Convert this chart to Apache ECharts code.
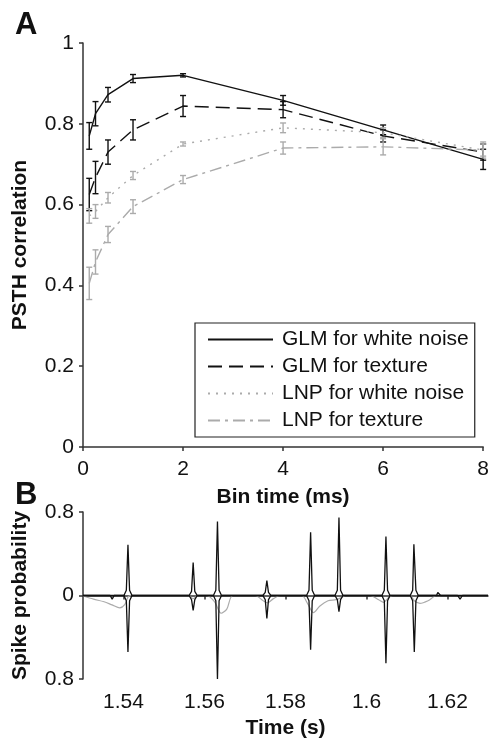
<!DOCTYPE html>
<html>
<head>
<meta charset="utf-8">
<script src="https://cdn.jsdelivr.net/npm/echarts@6/dist/echarts.min.js"></script>
<style>html,body{margin:0;padding:0;background:#fff;}#c{width:492px;height:740px;}</style>
</head>
<body>
<div id="c"></div>
<script>
// ---------- Panel A data ----------
const binTimes = [0.125, 0.25, 0.5, 1, 2, 4, 6, 8];
const glmWhite = [0.77, 0.825, 0.872, 0.912, 0.92, 0.858, 0.785, 0.712];
const glmWhiteErr = [0.033, 0.03, 0.018, 0.01, 0.004, 0.012, 0.012, 0.025];
const glmTexture = [0.625, 0.667, 0.73, 0.785, 0.844, 0.835, 0.77, 0.73];
const glmTextureErr = [0.04, 0.04, 0.03, 0.025, 0.026, 0.02, 0.015, 0.02];
const lnpWhite = [0.572, 0.583, 0.617, 0.672, 0.75, 0.79, 0.778, 0.735];
const lnpWhiteErr = [0.018, 0.017, 0.013, 0.01, 0.005, 0.012, 0.012, 0.015];
const lnpTexture = [0.405, 0.458, 0.526, 0.595, 0.662, 0.74, 0.743, 0.735];
const lnpTextureErr = [0.04, 0.03, 0.02, 0.017, 0.01, 0.015, 0.02, 0.02];
const seriesNames = ['GLM for white noise', 'GLM for texture', 'LNP for white noise', 'LNP for texture'];
const xTicksA = [0, 2, 4, 6, 8];

// ---------- Panel B data ----------
const timeTicksB = [1.54, 1.56, 1.58, 1.6, 1.62];
const glmUp = [
  [1.53,0],
  [1.5401,0],[1.5407,0.05],[1.5411,0.486],[1.5415,0.05],[1.5421,0],
  [1.5562,0],[1.5568,0.04],[1.5572,0.317],[1.5576,0.04],[1.5582,0],
  [1.5622,0],[1.5628,0.05],[1.5632,0.708],[1.5636,0.05],[1.5642,0],
  [1.5744,0],[1.575,0.03],[1.5754,0.143],[1.5758,0.03],[1.5764,0],
  [1.5852,0],[1.5858,0.05],[1.5862,0.607],[1.5866,0.05],[1.5872,0],
  [1.5922,0],[1.5928,0.05],[1.5932,0.746],[1.5936,0.05],[1.5942,0],
  [1.6038,0],[1.6044,0.05],[1.6048,0.565],[1.6052,0.05],[1.6058,0],
  [1.6108,0],[1.6114,0.05],[1.6117,0.49],[1.6119,0.48],[1.6122,0.05],[1.6128,0],
  [1.6173,0],[1.6176,0.03],[1.6178,0.04],[1.618,0.03],[1.6183,0],
  [1.63,0]
];
const glmDown = [
  [1.53,0],[1.5317,0],[1.5321,-0.012],[1.5325,0],
  [1.5367,0],[1.5372,-0.035],[1.5377,0],
  [1.5401,0],[1.5407,-0.05],[1.5411,-0.54],[1.5415,-0.05],[1.5421,0],
  [1.5562,0],[1.5568,-0.04],[1.5572,-0.143],[1.5576,-0.04],[1.5582,0],
  [1.5622,0],[1.5628,-0.05],[1.5632,-0.8],[1.5636,-0.05],[1.5642,0],
  [1.5744,0],[1.575,-0.04],[1.5754,-0.22],[1.5758,-0.04],[1.5764,0],
  [1.5852,0],[1.5858,-0.05],[1.5862,-0.52],[1.5866,-0.05],[1.5872,0],
  [1.5922,0],[1.5928,-0.04],[1.5932,-0.155],[1.5936,-0.04],[1.5942,0],
  [1.6038,0],[1.6044,-0.05],[1.6048,-0.65],[1.6052,-0.05],[1.6058,0],
  [1.6108,0],[1.6114,-0.05],[1.6118,-0.54],[1.6122,-0.05],[1.6128,0],
  [1.6175,0],[1.6178,-0.01],[1.6181,0],
  [1.6225,0],[1.6231,-0.035],[1.6237,0],
  [1.63,0]
];
const lnpDown = [
  [1.53,-0.005],[1.5326,-0.035],[1.5352,-0.06],[1.5372,-0.09],[1.5391,-0.118],[1.5403,-0.088],[1.5412,-0.01],[1.5422,0],
  [1.556,0],[1.5572,-0.03],[1.5584,0],
  [1.5605,0],[1.5625,-0.06],[1.5641,-0.17],[1.5655,-0.13],[1.567,0],
  [1.5725,0],[1.5745,-0.05],[1.5756,-0.07],[1.577,-0.03],[1.5787,0],
  [1.584,0],[1.5855,-0.08],[1.5869,-0.165],[1.5885,-0.1],[1.5905,-0.05],[1.5925,-0.04],[1.5938,-0.02],[1.5948,0],
  [1.6009,0],[1.603,-0.04],[1.6042,-0.065],[1.6055,-0.02],[1.6065,0],
  [1.6108,0],[1.6118,-0.05],[1.6132,-0.075],[1.6152,-0.05],[1.6174,0],[1.63,0]
];

const FONT = 'Liberation Sans, Arial, Helvetica, sans-serif';
const BLACK = '#111';
const GREY = '#ababab';

function pairs(xs, ys) { return xs.map((x, i) => [x, ys[i]]); }
function errData(xs, ys, es) { return xs.map((x, i) => [x, ys[i] - es[i], ys[i] + es[i]]); }
function errSeries(xs, ys, es, color) {
  return {
    type: 'custom', xAxisIndex: 0, yAxisIndex: 0, z: 3,
    data: errData(xs, ys, es),
    encode: { x: 0, y: [1, 2] },
    renderItem: function (params, api) {
      const lo = api.coord([api.value(0), api.value(1)]);
      const hi = api.coord([api.value(0), api.value(2)]);
      const w = 3;
      const st = { stroke: color, lineWidth: 1.4 };
      return {
        type: 'group',
        children: [
          { type: 'line', shape: { x1: lo[0], y1: lo[1], x2: hi[0], y2: hi[1] }, style: st },
          { type: 'line', shape: { x1: lo[0] - w, y1: lo[1], x2: lo[0] + w, y2: lo[1] }, style: st },
          { type: 'line', shape: { x1: hi[0] - w, y1: hi[1], x2: hi[0] + w, y2: hi[1] }, style: st }
        ]
      };
    }
  };
}

const axisLine = { show: true, lineStyle: { color: '#333', width: 1.5 } };
const axisTick = { show: true, length: 4, lineStyle: { color: '#333', width: 1.5 } };
const labelStyle = { color: '#111', fontSize: 21, fontFamily: FONT };
const nameStyle = { color: '#111', fontSize: 21, fontWeight: 'bold', fontFamily: FONT };

const chart = echarts.init(document.getElementById('c'), null, { renderer: 'canvas' });
chart.setOption({
  backgroundColor: '#fff',
  animation: false,
  textStyle: { fontFamily: FONT },
  title: [
    { text: 'A', left: 10, top: 5, textStyle: { fontSize: 31, fontWeight: 'bold', color: '#111', fontFamily: FONT } },
    { text: 'B', left: 10, top: 475, textStyle: { fontSize: 31, fontWeight: 'bold', color: '#111', fontFamily: FONT } }
  ],
  legend: {
    data: seriesNames,
    orient: 'vertical',
    left: 195, top: 323,
    itemWidth: 65, itemHeight: 20, itemGap: 6,
    padding: [6, 6, 6, 12],
    borderColor: '#222', borderWidth: 1.2,
    itemStyle: { opacity: 0 },
    textStyle: { fontSize: 21, color: '#111', fontFamily: FONT, padding: [0, 0, 0, 4] }
  },
  grid: [
    { left: 83, top: 43, width: 402, height: 404 },
    { left: 83, top: 512, width: 405, height: 168 }
  ],
  xAxis: [
    {
      gridIndex: 0, type: 'value', min: 0, max: 8, interval: 2,
      name: 'Bin time (ms)', nameLocation: 'middle', nameGap: 40, nameTextStyle: nameStyle,
      axisLine: axisLine, axisTick: axisTick, splitLine: { show: false },
      axisLabel: Object.assign({ margin: 12, customValues: xTicksA }, labelStyle)
    },
    {
      gridIndex: 1, type: 'value', min: 1.53, max: 1.63,
      name: 'Time (s)', nameLocation: 'middle', nameGap: 39, nameTextStyle: nameStyle,
      axisLine: axisLine, axisTick: Object.assign({ customValues: timeTicksB }, axisTick), splitLine: { show: false },
      axisLabel: Object.assign({ margin: 13, customValues: timeTicksB, formatter: v => String(v) }, labelStyle)
    }
  ],
  yAxis: [
    {
      gridIndex: 0, type: 'value', min: 0, max: 1, interval: 0.2,
      name: 'PSTH correlation', nameLocation: 'middle', nameGap: 52, nameTextStyle: nameStyle,
      axisLine: axisLine, axisTick: axisTick, splitLine: { show: false },
      axisLabel: Object.assign({ margin: 9 }, labelStyle)
    },
    {
      gridIndex: 1, type: 'value', min: -0.8, max: 0.8, interval: 0.8,
      name: 'Spike probability', nameLocation: 'middle', nameGap: 52, nameTextStyle: nameStyle,
      axisLine: axisLine, axisTick: axisTick, splitLine: { show: false },
      axisLabel: Object.assign({ margin: 9, formatter: v => String(Math.abs(Math.round(v * 10) / 10)) }, labelStyle)
    }
  ],
  series: [
    { name: seriesNames[0], type: 'line', xAxisIndex: 0, yAxisIndex: 0, symbol: 'none', z: 4,
      data: pairs(binTimes, glmWhite), itemStyle: { color: BLACK },
      lineStyle: { color: BLACK, width: 1.4, type: 'solid' } },
    { name: seriesNames[1], type: 'line', xAxisIndex: 0, yAxisIndex: 0, symbol: 'none', z: 4,
      data: pairs(binTimes, glmTexture), itemStyle: { color: BLACK },
      lineStyle: { color: BLACK, width: 1.4, type: [14, 7] } },
    { name: seriesNames[2], type: 'line', xAxisIndex: 0, yAxisIndex: 0, symbol: 'none', z: 4,
      data: pairs(binTimes, lnpWhite), itemStyle: { color: GREY },
      lineStyle: { color: GREY, width: 1.4, type: [2, 6] } },
    { name: seriesNames[3], type: 'line', xAxisIndex: 0, yAxisIndex: 0, symbol: 'none', z: 4,
      data: pairs(binTimes, lnpTexture), itemStyle: { color: GREY },
      lineStyle: { color: GREY, width: 1.4, type: [12, 5, 3, 5] } },
    errSeries(binTimes, glmWhite, glmWhiteErr, BLACK),
    errSeries(binTimes, glmTexture, glmTextureErr, BLACK),
    errSeries(binTimes, lnpWhite, lnpWhiteErr, GREY),
    errSeries(binTimes, lnpTexture, lnpTextureErr, GREY),
    { type: 'line', xAxisIndex: 1, yAxisIndex: 1, symbol: 'none', smooth: 0.3, z: 2,
      data: lnpDown, lineStyle: { color: GREY, width: 1.2 } },
    { type: 'line', xAxisIndex: 1, yAxisIndex: 1, symbol: 'none', z: 3,
      data: glmUp, lineStyle: { color: BLACK, width: 1.3 } },
    { type: 'line', xAxisIndex: 1, yAxisIndex: 1, symbol: 'none', z: 3,
      data: glmDown, lineStyle: { color: BLACK, width: 1.3 } }
  ]
});
</script>
</body>
</html>
